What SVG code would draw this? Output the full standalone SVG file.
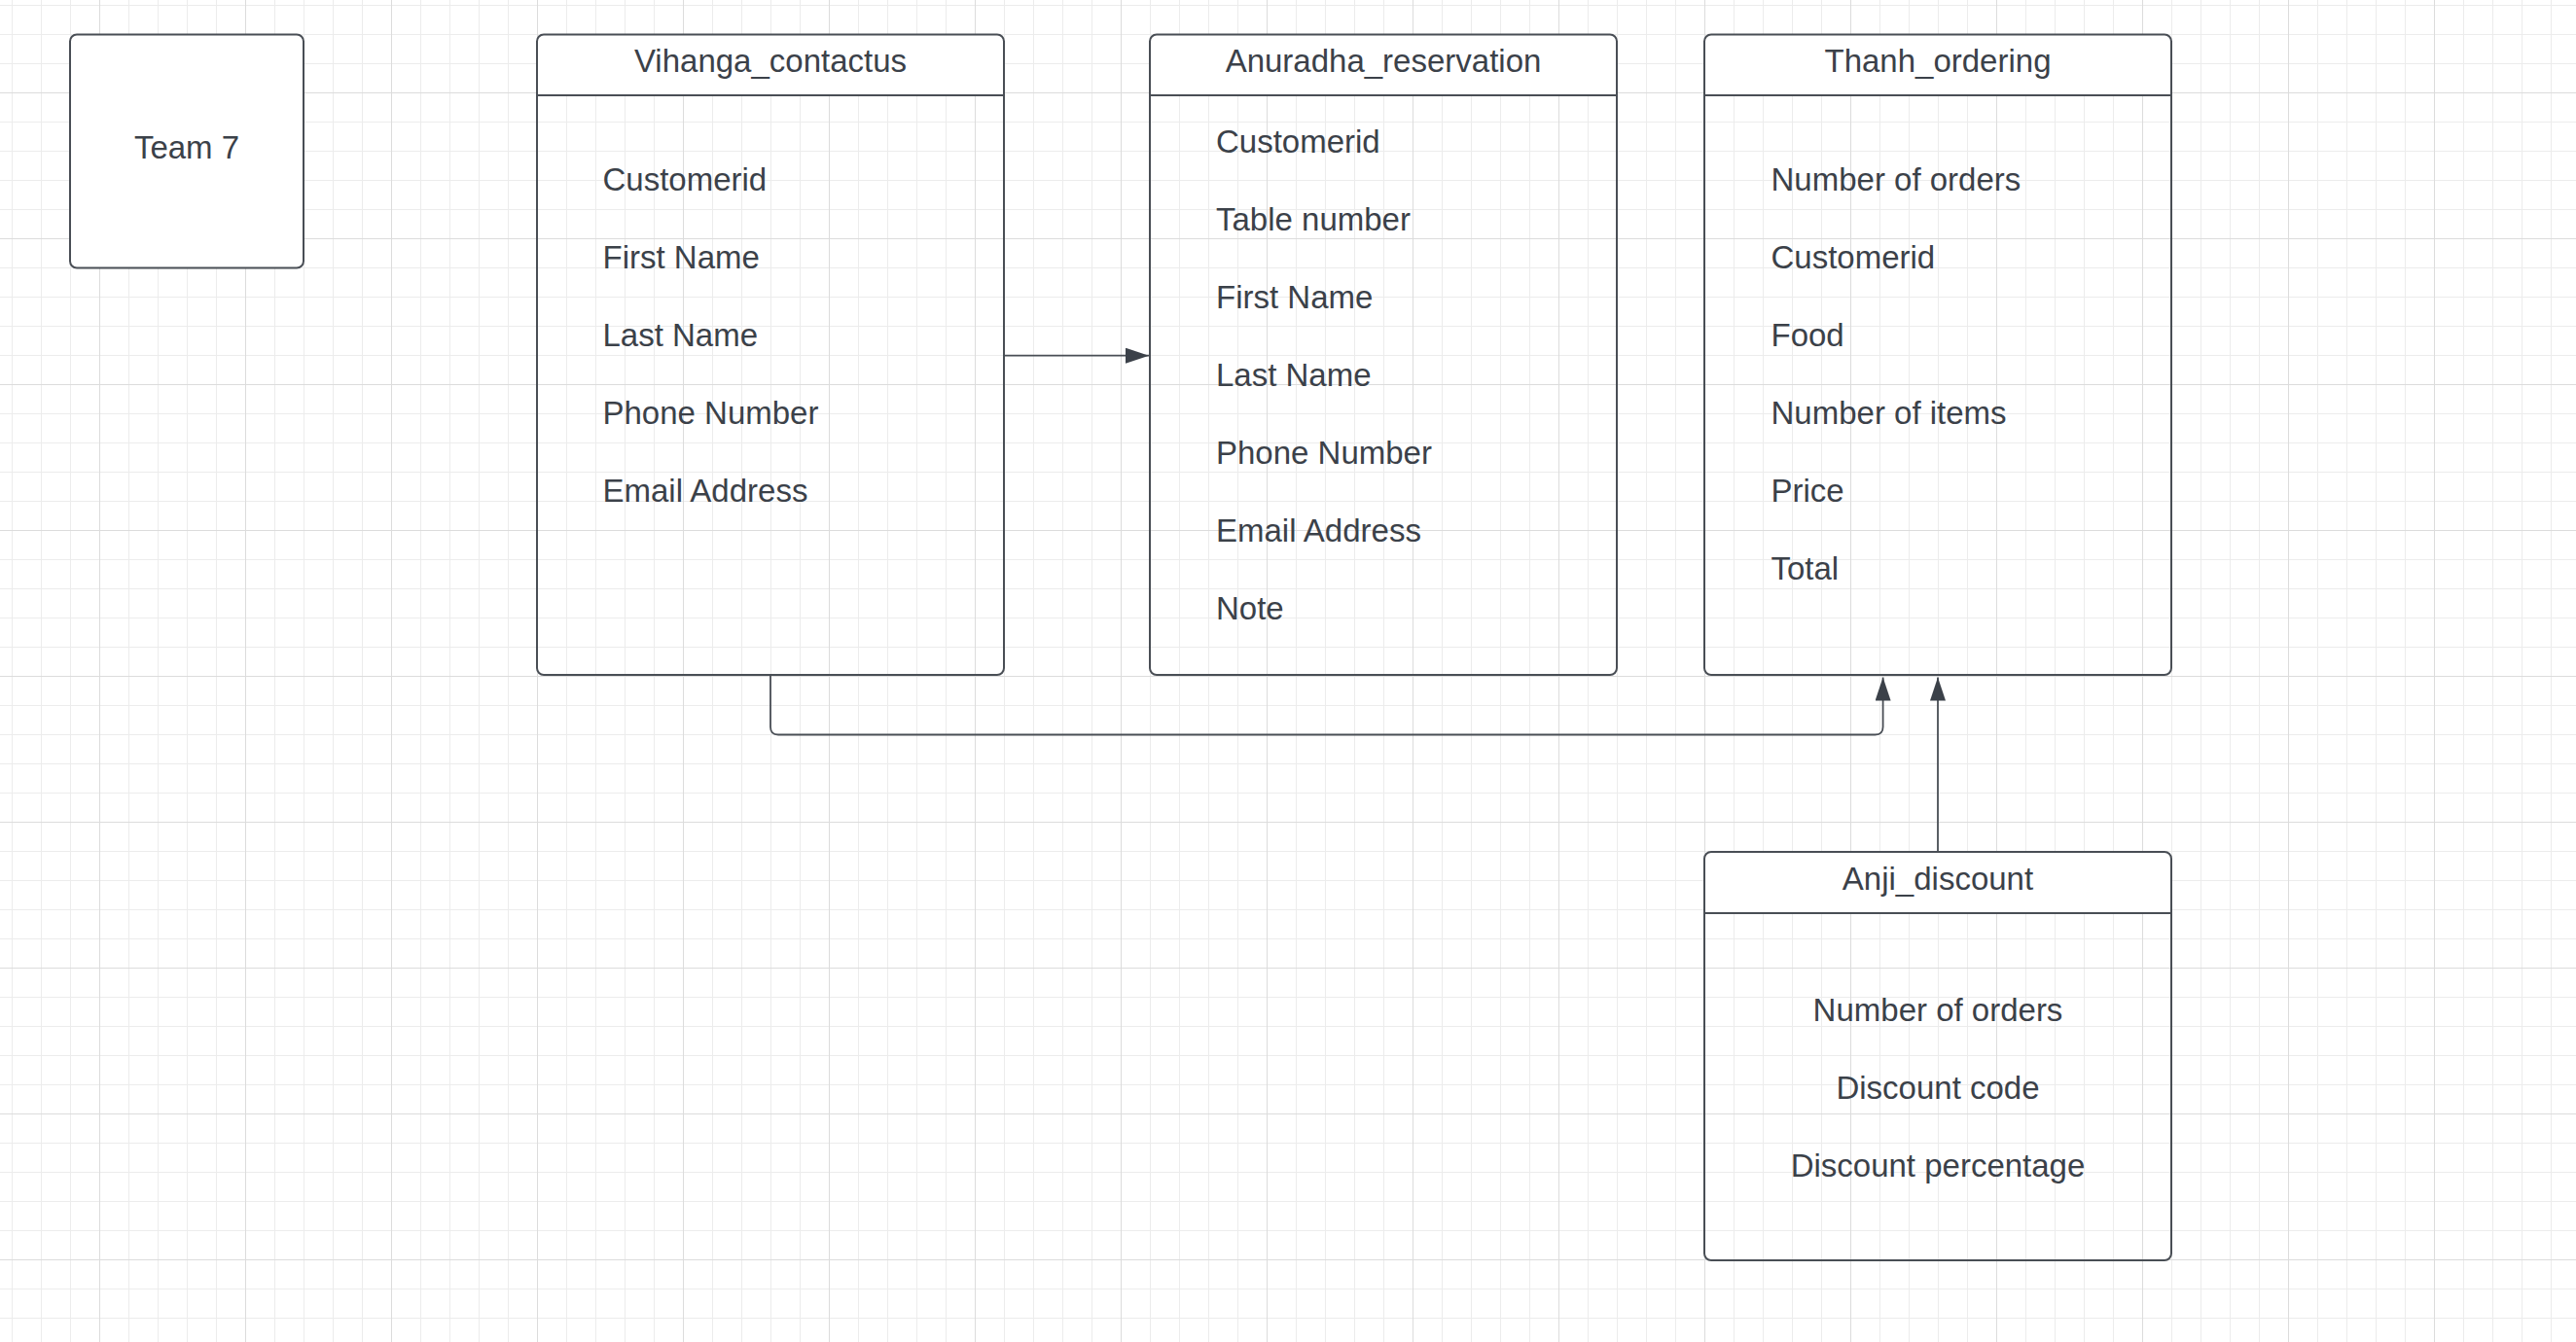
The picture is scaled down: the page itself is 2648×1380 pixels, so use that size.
<svg xmlns="http://www.w3.org/2000/svg" width="2648" height="1380" viewBox="0 0 2648 1380">
<style>
.t{font-family:"Liberation Sans",Arial,sans-serif;font-size:33px;fill:#3b4149}
.c{text-anchor:middle}
.box{fill:none;stroke:#494e55;stroke-width:2}
.hdr{fill:#ffffff;stroke:none}
.ln{stroke:#494e55;stroke-width:2;fill:none}
.con{stroke:#494e55;stroke-width:1.8;fill:none}
</style>
<defs>
<pattern id="minor" patternUnits="userSpaceOnUse" x="12" y="5" width="30" height="30">
<path d="M0.5 0V30M0 0.5H30" stroke="#ececec" stroke-width="1" fill="none"/>
</pattern>
<pattern id="major" patternUnits="userSpaceOnUse" x="102" y="95" width="150" height="150">
<path d="M0.5 0V150M0 0.5H150" stroke="#dcdcdc" stroke-width="1" fill="none"/>
</pattern>
<marker id="arr" viewBox="0 0 24 16" refX="24" refY="8" markerWidth="24" markerHeight="16" markerUnits="userSpaceOnUse" orient="auto">
<path d="M0 0L24 8L0 16Z" fill="#3b4149"/>
</marker>
</defs>
<rect width="2648" height="1380" fill="#ffffff"/>
<rect width="2648" height="1380" fill="url(#minor)"/>
<rect width="2648" height="1380" fill="url(#major)"/>

<g id="team7">
<rect x="72" y="35.5" width="240" height="240" rx="7" fill="#ffffff" stroke="#494e55" stroke-width="2"/>
<text class="t c" x="192" y="163">Team 7</text>
</g>

<g id="vihanga_contactus">
<path class="hdr" d="M552 98V42.5A7 7 0 0 1 559 35.5H1025A7 7 0 0 1 1032 42.5V98Z"/>
<rect class="box" x="552" y="35.5" width="480" height="658.5" rx="7"/>
<line class="ln" x1="552" y1="98" x2="1032" y2="98"/>
<text class="t c" x="792" y="74">Vihanga_contactus</text>
<text class="t" x="619.5" y="196">Customerid</text>
<text class="t" x="619.5" y="276">First Name</text>
<text class="t" x="619.5" y="356">Last Name</text>
<text class="t" x="619.5" y="436">Phone Number</text>
<text class="t" x="619.5" y="516">Email Address</text>
</g>

<g id="anuradha_reservation">
<path class="hdr" d="M1182 98V42.5A7 7 0 0 1 1189 35.5H1655A7 7 0 0 1 1662 42.5V98Z"/>
<rect class="box" x="1182" y="35.5" width="480" height="658.5" rx="7"/>
<line class="ln" x1="1182" y1="98" x2="1662" y2="98"/>
<text class="t c" x="1422" y="74">Anuradha_reservation</text>
<text class="t" x="1250" y="157">Customerid</text>
<text class="t" x="1250" y="237">Table number</text>
<text class="t" x="1250" y="317">First Name</text>
<text class="t" x="1250" y="397">Last Name</text>
<text class="t" x="1250" y="477">Phone Number</text>
<text class="t" x="1250" y="557">Email Address</text>
<text class="t" x="1250" y="637">Note</text>
</g>

<g id="thanh_ordering">
<path class="hdr" d="M1752 98V42.5A7 7 0 0 1 1759 35.5H2225A7 7 0 0 1 2232 42.5V98Z"/>
<rect class="box" x="1752" y="35.5" width="480" height="658.5" rx="7"/>
<line class="ln" x1="1752" y1="98" x2="2232" y2="98"/>
<text class="t c" x="1992" y="74">Thanh_ordering</text>
<text class="t" x="1820.5" y="196">Number of orders</text>
<text class="t" x="1820.5" y="276">Customerid</text>
<text class="t" x="1820.5" y="356">Food</text>
<text class="t" x="1820.5" y="436">Number of items</text>
<text class="t" x="1820.5" y="516">Price</text>
<text class="t" x="1820.5" y="596">Total</text>
</g>

<g id="anji_discount">
<path class="hdr" d="M1752 939V883A7 7 0 0 1 1759 876H2225A7 7 0 0 1 2232 883V939Z"/>
<rect class="box" x="1752" y="876" width="480" height="420" rx="7"/>
<line class="ln" x1="1752" y1="939" x2="2232" y2="939"/>
<text class="t c" x="1992" y="914.5">Anji_discount</text>
<text class="t c" x="1992" y="1050">Number of orders</text>
<text class="t c" x="1992" y="1130">Discount code</text>
<text class="t c" x="1992" y="1210">Discount percentage</text>
</g>

<g id="connectors">
<path class="con" d="M1032 365.7H1181" marker-end="url(#arr)"/>
<path class="con" d="M792 694V747.5Q792 755.5 800 755.5H1927.6Q1935.6 755.5 1935.6 747.5V696.5" marker-end="url(#arr)"/>
<path class="con" d="M1992 876V696.5" marker-end="url(#arr)"/>
</g>
</svg>
